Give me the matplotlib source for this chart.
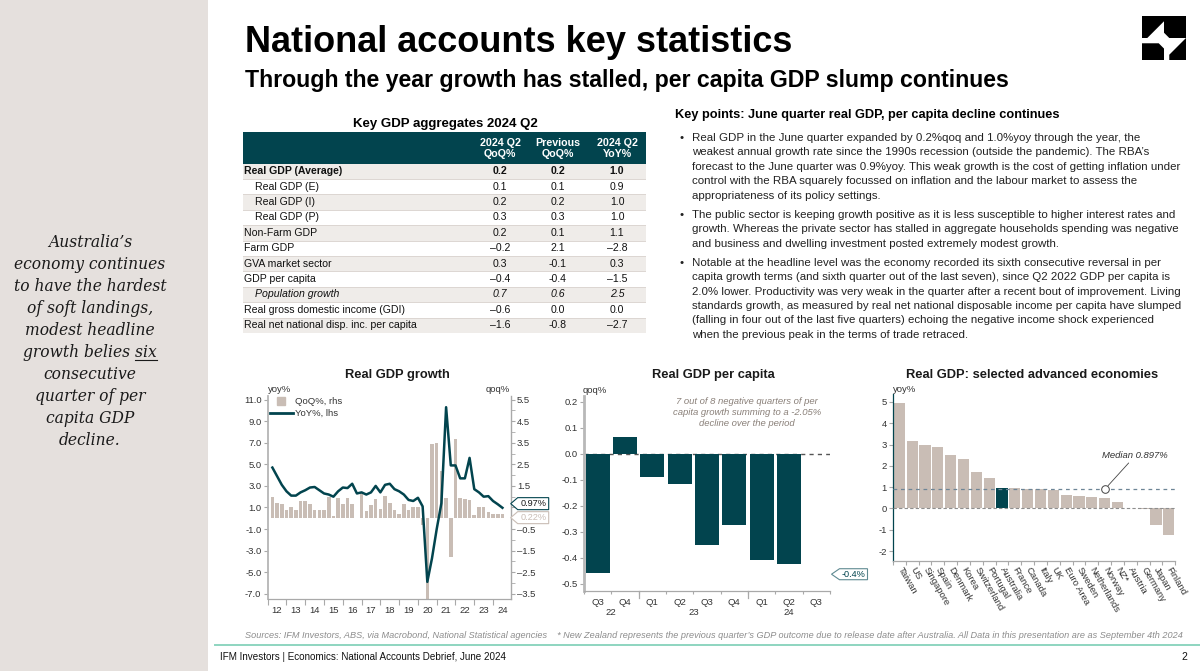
import matplotlib
matplotlib.use('Agg')
import matplotlib.pyplot as plt
from matplotlib.patches import Rectangle, Polygon
from matplotlib.lines import Line2D
import numpy as np
import pandas as pd

W, H = 1200, 671
plt.rcParams['font.family'] = ['Liberation Sans', 'DejaVu Sans']

TEAL = '#02444E'
BEIGE = '#C9BDB5'
SIDEBAR = '#E5E0DD'
ROWSHADE = '#EFECE9'
GRID = '#A9A9A9'
TXT = '#333333'

# ---------------- data ----------------
title = 'National accounts key statistics'
subtitle = 'Through the year growth has stalled, per capita GDP slump continues'
side_lines = ['Australia\u2019s', 'economy continues', 'to have the hardest', 'of soft landings,',
              'modest headline', 'growth belies six', 'consecutive', 'quarter of per',
              'capita GDP', 'decline.']

table_title = 'Key GDP aggregates 2024 Q2'
table_cols = [('2024 Q2', 'QoQ%'), ('Previous', 'QoQ%'), ('2024 Q2', 'YoY%')]
table_rows = ['Real GDP (Average)', 'Real GDP (E)', 'Real GDP (I)', 'Real GDP (P)', 'Non-Farm GDP',
              'Farm GDP', 'GVA market sector', 'GDP per capita', 'Population growth',
              'Real gross domestic income (GDI)', 'Real net national disp. inc. per capita']
table_qoq = [0.2, 0.1, 0.2, 0.3, 0.2, -0.2, 0.3, -0.4, 0.7, -0.6, -1.6]
table_prev = [0.2, 0.1, 0.2, 0.3, 0.1, 2.1, -0.1, -0.4, 0.6, 0.0, -0.8]
table_yoy = [1.0, 0.9, 1.0, 1.0, 1.1, -2.8, 0.3, -1.5, 2.5, 0.0, -2.7]
table_indent = [False, True, True, True, False, False, False, False, True, False, False]

kp_title = 'Key points: June quarter real GDP, per capita decline continues'
kp_bullets = [
    ['Real GDP in the June quarter expanded by 0.2%qoq and 1.0%yoy through the year, the',
     'weakest annual growth rate since the 1990s recession (outside the pandemic). The RBA\u2019s',
     'forecast to the June quarter was 0.9%yoy. This weak growth is the cost of getting inflation under',
     'control with the RBA squarely focussed on inflation and the labour market to assess the',
     'appropriateness of its policy settings.'],
    ['The public sector is keeping growth positive as it is less susceptible to higher interest rates and',
     'growth. Whereas the private sector has stalled in aggregate households spending was negative',
     'and business and dwelling investment posted extremely modest growth.'],
    ['Notable at the headline level was the economy recorded its sixth consecutive reversal in per',
     'capita growth terms (and sixth quarter out of the last seven), since Q2 2022 GDP per capita is',
     '2.0% lower. Productivity was very weak in the quarter after a recent bout of improvement. Living',
     'standards growth, as measured by real net national disposable income per capita have slumped',
     '(falling in four out of the last five quarters) echoing the negative income shock experienced',
     'when the previous peak in the terms of trade retraced.'],
]

gdp_start = '2012Q1'
gdp_yoy = [4.7, 3.9, 3.1, 2.5, 2.1, 2.1, 2.4, 2.6, 2.85, 2.9, 2.6, 2.3,
           2.2, 2.0, 2.5, 2.85, 2.8, 3.2, 2.3, 2.4, 2.2, 2.4, 3.0, 2.4,
           3.1, 3.2, 2.7, 2.5, 2.2, 1.7, 1.6, 1.9, 1.1, -5.9, -3.7, -1.0,
           1.4, 10.3, 4.9, 4.9, 3.7, 3.7, 5.6, 2.7, 2.4, 2.0, 2.05, 1.6, 1.3, 0.97]
gdp_qoq = [1.0, 0.73, 0.65, 0.39, 0.52, 0.39, 0.79, 0.79, 0.65, 0.39, 0.38, 0.38,
           1.0, 0.11, 0.95, 0.64, 0.92, 0.64, 0.0, 1.15, 0.33, 0.6, 0.9, 0.45,
           1.02, 0.73, 0.38, 0.22, 0.67, 0.38, 0.5, 0.53, -0.3, -6.8, 3.45, 3.5,
           2.17, 0.93, -1.8, 3.68, 0.93, 0.9, 0.85, 0.15, 0.5, 0.5, 0.3, 0.2, 0.2, 0.22]

pc_labels = ['Q3', 'Q4', 'Q1', 'Q2', 'Q3', 'Q4', 'Q1', 'Q2', 'Q3']
pc_years = ['22', '22', '23', '23', '23', '23', '24', '24', '24']
pc_values = [-0.46, 0.065, -0.09, -0.115, -0.35, -0.275, -0.41, -0.425]
pc_note = '7 out of 8 negative quarters of per\ncapita growth summing to a -2.05%\ndecline over the period'

countries = ['Taiwan', 'US', 'Singapore', 'Spain', 'Denmark', 'Korea', 'Switzerland', 'Portugal',
             'Australia', 'France', 'Canada', 'Italy', 'UK', 'Euro Area', 'Sweden', 'Netherlands',
             'Norway', 'NZ*', 'Austria', 'Germany', 'Japan', 'Finland']
country_gdp = [4.95, 3.15, 3.0, 2.9, 2.52, 2.3, 1.7, 1.45, 0.97, 0.96, 0.90, 0.894, 0.86, 0.63,
               0.58, 0.55, 0.47, 0.3, 0.03, -0.02, -0.78, -1.25]
highlight = 'Australia'

sources = ('Sources: IFM Investors, ABS, via Macrobond, National Statistical agencies    '
           '* New Zealand represents the previous quarter\u2019s GDP outcome due to release date after '
           'Australia. All Data in this presentation are as September 4th 2024')
footer = 'IFM Investors | Economics: National Accounts Debrief, June 2024'
page = '2'

# ---------------- figure helpers ----------------
fig = plt.figure(figsize=(W / 100, H / 100), dpi=100)
fig.patch.set_facecolor('white')
renderer = fig.canvas.get_renderer()


def X(x):
    return x / W


def Y(y):
    return 1 - y / H


def add_ax(x0, y0, x1, y1):
    return fig.add_axes([X(x0), Y(y1), (x1 - x0) / W, (y1 - y0) / H])


def to_px(ax, x, y):
    dx, dy = ax.transData.transform((x, y))
    return dx, H - dy


def fit_text(x, y, s, target_w, size, **kw):
    t = fig.text(X(x), Y(y), s, fontsize=size, **kw)
    w = t.get_window_extent(renderer).width
    t.set_fontsize(size * target_w / w)
    return t


def callout(x_tip, y, text, ec, tc, w=31, h=12, pw=7):
    pts = [(x_tip, y), (x_tip + pw, y - h / 2), (x_tip + pw + w, y - h / 2),
           (x_tip + pw + w, y + h / 2), (x_tip + pw, y + h / 2)]
    fig.patches.append(Polygon([(X(a), Y(b)) for a, b in pts], closed=True,
                               transform=fig.transFigure, fc='white', ec=ec, lw=0.8, zorder=5))
    fig.text(X(x_tip + pw + w / 2), Y(y), text, ha='center', va='center', fontsize=6.6,
             color=tc, zorder=6)


# ---------------- sidebar ----------------
fig.patches.append(Rectangle((0, 0), X(208), 1, transform=fig.transFigure, fc=SIDEBAR, ec='none', zorder=0))
side_texts = []
SIDE_FS = 11.2
for k, line in enumerate(side_lines):
    t = fig.text(X(90), Y(247 + 22 * k), line, ha='center', va='baseline', fontsize=SIDE_FS,
                 family='DejaVu Serif', style='italic', color='#1a1a1a')
    side_texts.append(t)
t_six = side_texts[5]
bb = t_six.get_window_extent(renderer)
tmp = fig.text(0, 0, 'six', fontsize=SIDE_FS, family='DejaVu Serif', style='italic')
w_six = tmp.get_window_extent(renderer).width
tmp.remove()
base_y = H - (247 + 22 * 5)
fig.lines.append(Line2D([(bb.x1 - w_six) / W, bb.x1 / W], [(base_y - 2.5) / H] * 2,
                        transform=fig.transFigure, color='#1a1a1a', lw=0.8))

# ---------------- titles ----------------
fig.text(X(245), Y(42), title, fontsize=26, weight='bold', va='center', color='black')
fig.text(X(245), Y(80), subtitle, fontsize=16.7, weight='bold', va='center', color='black')

# logo (approximate geometric mark)
lx, ly, ls = 1142, 16, 44
logo_polys = [
    [(0, 0), (0.5, 0), (0.5, 0.12), (0.12, 0.5), (0, 0.5)],
    [(1, 0), (1, 0.5), (0.62, 0.5), (0.5, 0.38), (0.5, 0)],
    [(0, 1), (0, 0.62), (0.38, 0.62), (0.5, 0.74), (0.5, 1)],
    [(1, 1), (0.62, 1), (0.62, 0.88), (1, 0.5)],
]
for poly in logo_polys:
    fig.patches.append(Polygon([(X(lx + px * ls), Y(ly + py * ls)) for px, py in poly], closed=True,
                               transform=fig.transFigure, fc='black', ec='none'))

# ---------------- table ----------------
tx0, tx1, ty0, thead, rh = 243, 646, 132, 163.5, 15.4
ty1 = thead + rh * len(table_rows)
tax = add_ax(tx0, ty0, tx1, ty1)
tax.set_xlim(tx0, tx1)
tax.set_ylim(ty1, ty0)
tax.axis('off')
fig.text(X(445), Y(124), table_title, ha='center', va='center', fontsize=9.5, weight='bold')
tax.add_patch(Rectangle((tx0, ty0), tx1 - tx0, thead - ty0, fc=TEAL, ec='none'))
col_x = [500, 558, 617]
for cx, (l1, l2) in zip(col_x, table_cols):
    tax.text(cx, 142.5, l1, ha='center', va='center', color='white', fontsize=7.7, weight='bold')
    tax.text(cx, 154, l2, ha='center', va='center', color='white', fontsize=7.7, weight='bold')


def fmt(v, dash='\u2013'):
    return (dash + f'{abs(v):.1f}') if v < 0 else f'{v:.1f}'


for i, name in enumerate(table_rows):
    y0 = thead + rh * i
    if i % 2 == 0:
        tax.add_patch(Rectangle((tx0, y0), tx1 - tx0, rh, fc=ROWSHADE, ec='none'))
    tax.plot([tx0, tx1], [y0 + rh, y0 + rh], color='#DCD6D2', lw=0.7)
    yc = y0 + rh / 2
    kw = dict(fontsize=7.6, va='center', color='#111111')
    if i == 0:
        kw['weight'] = 'bold'
    if name == 'Population growth':
        kw['style'] = 'italic'
    tax.text(tx0 + (12 if table_indent[i] else 1), yc, name, ha='left', **kw)
    for cx, vals, dash in zip(col_x, (table_qoq, table_prev, table_yoy), ('\u2013', '-', '\u2013')):
        tax.text(cx, yc, fmt(vals[i], dash), ha='center', **kw)

# ---------------- key points ----------------
fig.text(X(675), Y(115), kp_title, fontsize=9.2, weight='bold', va='center')
yy = 138
for para in kp_bullets:
    fig.text(X(679), Y(yy), '\u2022', fontsize=8.2, va='center', color='#222222')
    for line in para:
        fig.text(X(692), Y(yy), line, fontsize=8.25, va='center', color='#222222')
        yy += 14.4
    yy += 4.8

# ---------------- chart 1: Real GDP growth ----------------
q = pd.period_range(gdp_start, periods=len(gdp_yoy), freq='Q')
xq = q.year + q.quarter / 4.0
ax1 = add_ax(267.7, 396, 510.7, 599)
ax1b = ax1.twinx()
ax1b.bar(xq, gdp_qoq, width=0.19, color=BEIGE, zorder=2)
ax1.plot(xq, gdp_yoy, color=TEAL, lw=1.8, zorder=3, solid_joinstyle='round')
ax1.set_zorder(ax1b.get_zorder() + 1)
ax1.patch.set_visible(False)
ylo, yhi = -7.49, 11.34
ax1.set_ylim(ylo, yhi)
ax1b.set_ylim(ylo / 2, yhi / 2)
ax1.set_xlim(2012, 2024.94)
lt = np.arange(-7, 12, 2)
ax1.set_yticks(lt, [f'{v:.1f}' for v in lt])
rt = np.arange(-3.5, 6, 1)
# the 0.5 label sits under the end-value callouts in the reference
ax1b.set_yticks(rt, ['' if abs(v - 0.5) < 1e-9 else f'{v:.1f}'.replace('-', '\u2013') for v in rt])
ax1b.set_yticks(np.arange(-3, 6, 1), minor=True)
years = np.arange(2012, 2025)
ax1.set_xticks(years, [''] * len(years))
ax1.set_xticks(years + 0.5, [f'{y % 100:02d}' for y in years], minor=True)
ax1.tick_params(axis='x', which='major', length=4, color=GRID, width=0.8)
ax1.tick_params(axis='x', which='minor', length=0, pad=5, labelsize=6.8, labelcolor=TXT)
ax1.tick_params(axis='y', length=3, color=GRID, labelsize=6.8, labelcolor=TXT, pad=1.5)
ax1b.tick_params(axis='y', which='both', length=3, color=GRID, labelsize=6.8, labelcolor=TXT, pad=1.5)
for a in (ax1, ax1b):
    a.spines['top'].set_visible(False)
ax1.spines['right'].set_visible(False)
ax1b.spines['left'].set_visible(False)
ax1b.spines['bottom'].set_visible(False)
ax1.spines['left'].set_color('#B5B5B5')
ax1.spines['left'].set_linewidth(1.3)
ax1.spines['bottom'].set_color(GRID)
ax1.spines['bottom'].set_linewidth(0.9)
ax1b.spines['right'].set_color(GRID)
ax1b.spines['right'].set_linewidth(1.0)
fig.text(X(397), Y(375), 'Real GDP growth', ha='center', va='center', fontsize=9.3, weight='bold', color='#1a1a1a')
fig.text(X(268), Y(389), 'yoy%', ha='left', va='center', fontsize=6.8, color=TXT)
fig.text(X(510), Y(389), 'qoq%', ha='right', va='center', fontsize=6.8, color=TXT)
handles = [Line2D([], [], marker='s', color=BEIGE, ls='none', markersize=6),
           Line2D([], [], color=TEAL, lw=2)]
fig.legend(handles, ['QoQ%, rhs', 'YoY%, lhs'], loc='upper left', bbox_to_anchor=(X(268), Y(395)),
           frameon=False, fontsize=6.8, handlelength=2.4, handletextpad=0.3, labelspacing=0.35,
           borderpad=0.2, borderaxespad=0, labelcolor=TXT)
_, y_yoy = to_px(ax1, xq[-1], gdp_yoy[-1])
_, y_qoq = to_px(ax1b, xq[-1], gdp_qoq[-1])
if abs(y_qoq - y_yoy) < 14:
    mid = (y_qoq + y_yoy) / 2
    y_yoy, y_qoq = mid - 7, mid + 7
x_right = ax1.get_position().x1 * W
callout(x_right, y_yoy, f'{gdp_yoy[-1]:.2f}%', TEAL, '#1a1a1a')
callout(x_right, y_qoq, f'{gdp_qoq[-1]:.2f}%', BEIGE, BEIGE)

# ---------------- chart 2: Real GDP per capita ----------------
ax2 = add_ax(584, 396, 830, 591)
xs = np.arange(len(pc_labels))
ax2.bar(xs[:len(pc_values)], pc_values, width=0.88, color=TEAL, zorder=2)
ax2.axhline(0, color='#555555', lw=1.0, ls=(0, (3, 3)), zorder=1)
ax2.set_xlim(-0.5, len(pc_labels) - 0.5)
ax2.set_ylim(-0.528, 0.222)
yt2 = np.round(np.arange(-0.5, 0.25, 0.1), 1) + 0.0
ax2.set_yticks(yt2, [f'{v:.1f}' for v in yt2])
ax2.set_xticks(xs, pc_labels)
ax2.set_xticks(np.arange(-0.5, len(pc_labels), 1), minor=True)
ax2.tick_params(axis='x', which='major', length=0, pad=5, labelsize=6.8, labelcolor=TXT)
ax2.tick_params(axis='x', which='minor', length=2.5, color=GRID, width=0.8)
ax2.tick_params(axis='y', length=3, color=GRID, labelsize=6.8, labelcolor=TXT, pad=1.5)
for s in ('top', 'right'):
    ax2.spines[s].set_visible(False)
ax2.spines['left'].set_color('#B8B8B8')
ax2.spines['left'].set_linewidth(2.0)
ax2.spines['bottom'].set_color(GRID)
ax2.spines['bottom'].set_linewidth(0.9)
yrs = pd.Series(pc_years)
for i in range(1, len(pc_years)):
    if pc_years[i] != pc_years[i - 1]:
        ax2.plot([i - 0.5, i - 0.5], [0, -0.035], transform=ax2.get_xaxis_transform(),
                 color=GRID, lw=0.9, clip_on=False)
for yv in yrs.unique():
    idx = np.where(yrs.values == yv)[0]
    ax2.annotate(yv, xy=((idx[0] + idx[-1]) / 2, 0), xycoords=('data', 'axes fraction'),
                 xytext=(0, -15.5), textcoords='offset points', ha='center', va='center',
                 fontsize=6.8, color=TXT)
fig.text(X(713), Y(375), 'Real GDP per capita', ha='center', va='center', fontsize=9.3, weight='bold', color='#1a1a1a')
fig.text(X(583), Y(390), 'qoq%', ha='left', va='center', fontsize=6.8, color=TXT)
ax2.text(5.46, 0.158, pc_note, ha='center', va='center', fontsize=6.8, style='italic',
         color='#8A8079', linespacing=1.25)
_, y_pc = to_px(ax2, xs[len(pc_values) - 1], pc_values[-1])
callout(831.5, y_pc + 10, f'{round(pc_values[-1], 1):.1f}%', '#5F8A92', TEAL, w=28, h=11, pw=8)

# ---------------- chart 3: selected advanced economies ----------------
ax3 = add_ax(893, 394, 1175.3, 560.7)
n = len(countries)
cols = [TEAL if c == highlight else BEIGE for c in countries]
ax3.bar(np.arange(n), country_gdp, width=0.87, color=cols, zorder=2)
ax3.axhline(0, color='#8E8E8E', lw=0.8, ls=(0, (3, 2)), zorder=3)
median = float(np.median(country_gdp))
ax3.axhline(median, color='#6D8596', lw=0.9, ls=(0, (3, 3)), zorder=3)
ax3.plot(16, median, marker='o', ms=5.5, mfc='white', mec='#444444', mew=0.7, zorder=4)
ax3.annotate(f'Median {median:.3f}%', xy=(16, median), xytext=(22, 21), textcoords='offset points',
             ha='center', va='bottom', fontsize=6.8, style='italic', color='#333333',
             arrowprops=dict(arrowstyle='-', color='#444444', lw=0.6, shrinkA=0, shrinkB=3.5))
ax3.set_xlim(-0.5, n - 0.5)
ax3.set_ylim(-2.45, 5.37)
yt3 = np.arange(-2, 6, 1)
ax3.set_yticks(yt3, [str(v) for v in yt3])
ax3.set_xticks(np.arange(n), countries, rotation=-60, ha='left', va='center', rotation_mode='anchor')
ax3.set_xticks(np.arange(-0.5, n, 1), minor=True)
ax3.tick_params(axis='x', which='major', length=0, pad=5, labelsize=6.8, labelcolor=TXT)
ax3.tick_params(axis='x', which='minor', length=3, color=GRID, width=0.8)
ax3.tick_params(axis='y', length=3, color=GRID, labelsize=6.8, labelcolor=TXT, pad=1.5)
for s in ('top', 'right'):
    ax3.spines[s].set_visible(False)
ax3.spines['left'].set_color(TEAL)
ax3.spines['left'].set_linewidth(0.9)
ax3.spines['bottom'].set_color(GRID)
ax3.spines['bottom'].set_linewidth(0.9)
fig.text(X(1032), Y(375), 'Real GDP: selected advanced economies', ha='center', va='center', fontsize=9.3,
         weight='bold', color='#1a1a1a')
fig.text(X(893), Y(389), 'yoy%', ha='left', va='center', fontsize=6.8, color=TXT)

# ---------------- footer ----------------
fit_text(245, 636, sources, 930, 6.5, style='italic', color='#8C8C8C', va='center')
fig.lines.append(Line2D([X(215), X(1200)], [Y(645), Y(645)], transform=fig.transFigure, color='#8ED5C0', lw=1.4))
fit_text(220, 657, footer, 285, 7.5, color='#111111', va='center')
fig.text(X(1187), Y(657), page, fontsize=7.5, color='#111111', va='center', ha='right')

fig.savefig('out.png', dpi=100)
